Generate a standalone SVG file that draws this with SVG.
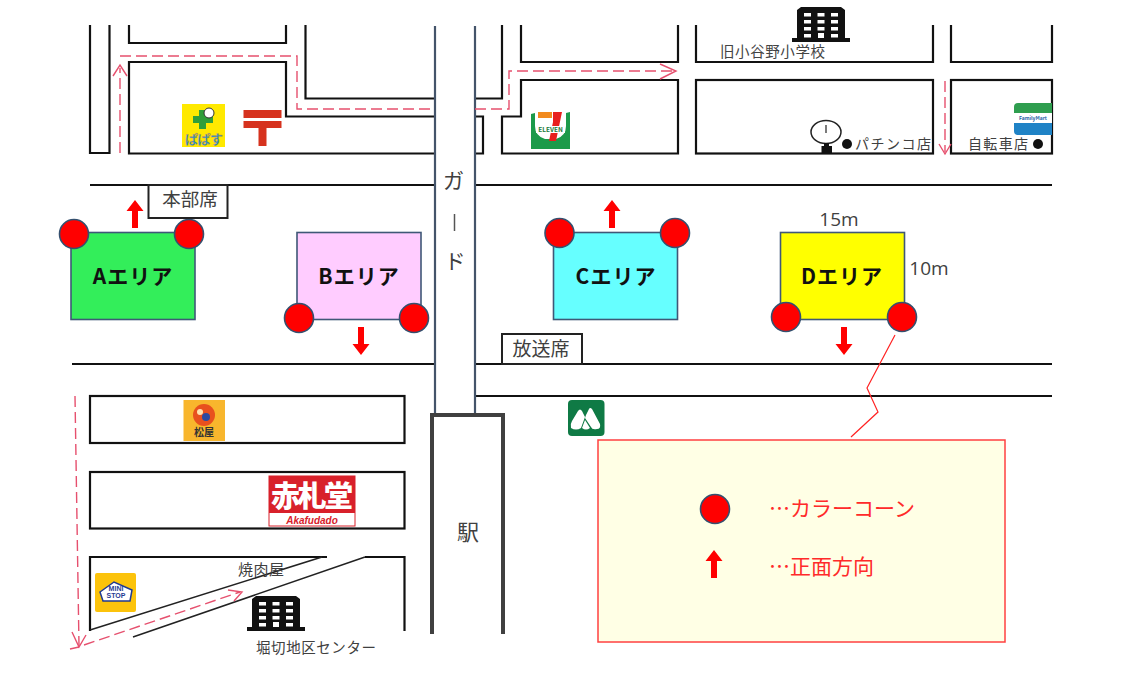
<svg xmlns="http://www.w3.org/2000/svg" width="1126" height="680" viewBox="0 0 1126 680">
<style>
text{font-family:"Noto Sans CJK JP","Noto Sans",sans-serif;fill:#404040}
.road{fill:none;stroke:#111;stroke-width:2.200}
.guard{fill:none;stroke:#44546a;stroke-width:2.200}
.dash{fill:none;stroke:#e6506e;stroke-width:1.400;stroke-dasharray:11 5}
.head{fill:none;stroke:#e6506e;stroke-width:1.400}
.area{stroke:#3f5877;stroke-width:1.600}
.cone{fill:#f00;stroke:#34506f;stroke-width:1.600}
.lab{font-size:21px;font-weight:700;fill:#111;text-anchor:middle;letter-spacing:1px}
.box{fill:#fff;stroke:#222;stroke-width:2}
.blk{fill:#111}
.win{fill:#fff}
</style>
<defs>
<path id="up" d="M0-14L8.500-3H3V14H-3V-3H-8.500Z" fill="#f00"/>
<g id="bld">
<path class="blk" d="M-24 -16L-20 -19H20L24 -16V12H29V16H-29V12H-24Z"/>
<g class="win">
<rect x="-17" y="-13" width="7" height="3.500"/><rect x="-3.500" y="-13" width="7" height="3.500"/><rect x="10" y="-13" width="7" height="3.500"/>
<rect x="-17" y="-6" width="7" height="3.500"/><rect x="-3.500" y="-6" width="7" height="3.500"/><rect x="10" y="-6" width="7" height="3.500"/>
<rect x="-17" y="1" width="7" height="3.500"/><rect x="-3.500" y="1" width="7" height="3.500"/><rect x="10" y="1" width="7" height="3.500"/>
<rect x="-17" y="8" width="7" height="3.500"/><rect x="-3" y="7" width="6" height="5"/><rect x="10" y="8" width="7" height="3.500"/>
</g>
</g>
</defs>
<rect width="1126" height="680" fill="#fff"/>

<g id="roads">
<path class="road" d="M90 25V153H109.500V25"/>
<path class="road" d="M129 25V43H286V25"/>
<path class="road" d="M435 116.500H286V62H129V153.500H435"/>
<path class="road" d="M305.500 25V98.500H435"/>
<path class="road" d="M475 98.500H502V25"/>
<path class="road" d="M475 116.500H483V153.500H475"/>
<path class="road" d="M521 25V62H678V25"/>
<path class="road" d="M521 80H678V153.500H502V116.500H521Z"/>
<path class="road" d="M696 25V62H933V25"/>
<rect class="road" x="696" y="80" width="237" height="73.500"/>
<path class="road" d="M951 25V62H1052V25"/>
<rect class="road" x="951" y="80" width="101" height="73.500"/>
<path class="road" d="M90 185H435M475 185H1052"/>
<path class="road" d="M72 364H435M475 364H1052M475 396H1052"/>
<rect class="road" x="90" y="396" width="314.500" height="47"/>
<rect class="road" x="90" y="472" width="314.500" height="56.500"/>
<path class="road" d="M90 631V557H327"/>
<path class="road" d="M365 557H404.500V631"/>
<path d="M322 557L90 630M365 557L133 637" fill="none" stroke="#222" stroke-width="1.500"/>
<path class="guard" d="M435 26V413M475 26V413"/>
</g>

<g id="route">
<path class="dash" d="M120 153V68"/>
<path class="head" d="M113 76L120 65L127 76"/>
<path class="dash" d="M120 56H297V109H435"/>
<path class="dash" d="M475 109H509V71H672"/>
<path class="head" d="M660 64L676 71L660 79"/>
<path class="dash" d="M945 81V152"/>
<path class="head" d="M939 144L945 154L951 144"/>
<path class="dash" d="M75 396L79 646"/>
<path class="head" d="M72 632L79 647L86 635M70 649L79 647"/>
<path class="dash" d="M84 645L240 592"/>
<path class="head" d="M228 590L242 592L234 601"/>
</g>

<g id="station">
<path d="M432 634V415H503V634" fill="#fff" stroke="#404040" stroke-width="4"/>
<text x="468" y="540" font-size="22" text-anchor="middle">駅</text>
</g>
<g id="guard-label">
<text x="453.500" y="188" font-size="21" text-anchor="middle">ガ</text>
<path d="M454.500 214V231" stroke="#555" stroke-width="1.500"/>
<text x="455" y="269" font-size="21" text-anchor="middle">ド</text>
</g>

<g id="area-a">
<rect class="area" x="71" y="232.500" width="124" height="87" fill="#33ee5a"/>
<text class="lab" x="133" y="284">Aエリア</text>
<circle class="cone" cx="74" cy="234" r="14.500"/><circle class="cone" cx="189" cy="234" r="14.500"/>
<use href="#up" transform="translate(135 214)"/>
</g>
<g id="area-b">
<rect class="area" x="297" y="232.500" width="124" height="87" fill="#ffccff"/>
<text class="lab" x="359" y="284">Bエリア</text>
<circle class="cone" cx="299" cy="318" r="14.500"/><circle class="cone" cx="414" cy="318" r="14.500"/>
<use href="#up" transform="translate(361 341) rotate(180)"/>
</g>
<g id="area-c">
<rect class="area" x="553.500" y="232.500" width="124" height="87" fill="#66ffff"/>
<text class="lab" x="616" y="284">Cエリア</text>
<circle class="cone" cx="559.500" cy="233" r="14.500"/><circle class="cone" cx="675" cy="233" r="14.500"/>
<use href="#up" transform="translate(612 214)"/>
</g>
<g id="area-d">
<rect class="area" x="780.500" y="232.500" width="124" height="87" fill="#ff0"/>
<text class="lab" x="842" y="284">Dエリア</text>
<circle class="cone" cx="786" cy="317" r="14.500"/><circle class="cone" cx="902" cy="317" r="14.500"/>
<use href="#up" transform="translate(844 341) rotate(180)"/>
<text x="839" y="226" font-size="19" text-anchor="middle" style="font-family:'Open Sans',sans-serif">15m</text>
<text x="929" y="275" font-size="19" text-anchor="middle" style="font-family:'Open Sans',sans-serif">10m</text>
</g>

<g id="honbu">
<rect class="box" x="148.500" y="185" width="79" height="33"/>
<text x="190" y="206" font-size="18.500" text-anchor="middle">本部席</text>
</g>
<g id="hoso">
<rect class="box" x="502" y="334" width="80" height="30"/>
<text x="541" y="355.500" font-size="19" text-anchor="middle">放送席</text>
</g>

<g id="legend">
<path d="M895 335L867 388L878 412L851 437" fill="none" stroke="#f22" stroke-width="1.200"/>
<rect x="598" y="440" width="407" height="202" fill="#ffffe5" stroke="#ff4040" stroke-width="1.500"/>
<circle class="cone" cx="715" cy="509" r="14.500"/>
<use href="#up" transform="translate(714 564)"/>
<text x="769" y="516" font-size="21" style="fill:#ff2a2a">…カラーコーン</text>
<text x="769" y="574" font-size="21" style="fill:#ff2a2a">…正面方向</text>
</g>

<g id="papasu">
<rect x="182" y="104" width="43" height="43" fill="#ffe900"/>
<path d="M193 116h6v-6h7v6h7v7h-7v6h-7v-6h-6Z" fill="#2f9e3a"/>
<circle cx="209" cy="113" r="5" fill="#fff" stroke="#333"/>
<text x="204" y="144" font-size="13" font-weight="700" text-anchor="middle" style="fill:#2a8fc0;stroke:#f0a020;stroke-width:.3" textLength="38">ぱぱす</text>
</g>
<g id="post">
<path d="M243.500 110H281.500V118H243.500ZM243.500 121H281.500V128H266.500V146H258.500V128H243.500Z" fill="#d6321e"/>
</g>
<g id="seven">
<path d="M531 114L535 113V126Q535 136 545 139H556Q566 136 566 126V113L570 112V149H531Z" fill="#1c9a4a"/>
<rect x="538" y="112" width="14" height="6" fill="#f28a1e"/>
<path d="M553 112H562L556 141H549L553 122Z" fill="#e8201e"/>
<rect x="536" y="126" width="29" height="7" fill="#fff"/>
<text x="550.500" y="132" font-size="6.500" font-weight="700" text-anchor="middle" style="fill:#1c7a3a">ELEVEN</text>
</g>
<g id="school">
<use href="#bld" transform="translate(821 26)"/>
<text x="720" y="57" font-size="14.500" style="fill:#444" textLength="105">旧小谷野小学校</text>
</g>
<g id="pachinko">
<ellipse cx="826" cy="132" rx="15" ry="11.500" fill="#fff" stroke="#222" stroke-width="1.500"/>
<path d="M826 125V133" stroke="#222" stroke-width="1.200"/>
<path d="M824 143H829V146H832V153H821.500V146H824Z" fill="#111"/>
<circle cx="847" cy="144" r="5" fill="#111"/>
<text x="855" y="149" font-size="14" textLength="76">パチンコ店</text>
</g>
<g id="bike">
<text x="968" y="149" font-size="14" textLength="60">自転車店</text>
<circle cx="1038" cy="144" r="5" fill="#111"/>
</g>
<g id="family">
<path d="M1014 113V107Q1014 103 1018 103H1052V113Z" fill="#2f9e4f"/>
<rect x="1014" y="113" width="38" height="10" fill="#fff"/>
<path d="M1014 123H1052V135H1018Q1014 135 1014 131Z" fill="#1f83c6"/>
<text x="1033" y="120" font-size="5" font-weight="700" text-anchor="middle" style="fill:#1f5fa6">FamilyMart</text>
</g>

<g id="matsuya">
<rect x="183.500" y="400" width="41.500" height="41" fill="#f8b62d"/>
<circle cx="204" cy="415" r="11" fill="#e8501e"/>
<circle cx="206" cy="417" r="4" fill="#2a4aa0"/><circle cx="200" cy="412" r="3" fill="#fde2b0"/>
<text x="204" y="436" font-size="10" font-weight="700" text-anchor="middle" style="fill:#333">松屋</text>
</g>
<g id="akafudado">
<rect x="269" y="476" width="86" height="50" fill="#fff" stroke="#d8202a"/>
<rect x="269" y="476" width="86" height="37" fill="#d8202a"/>
<text x="312" y="507" font-size="29" font-weight="900" text-anchor="middle" style="fill:#fff" textLength="82">赤札堂</text>
<text x="312" y="524" font-size="10" font-style="italic" font-weight="700" text-anchor="middle" style="fill:#d8202a;font-family:'Liberation Sans',sans-serif">Akafudado</text>
</g>
<g id="ministop">
<rect x="95" y="573" width="41" height="39" rx="2" fill="#fcc30b"/>
<path d="M100 592L114 582L132 590L130 601H103Z" fill="#fff" stroke="#1f3a93" stroke-width="1.500"/>
<text x="116" y="591" font-size="7" font-weight="900" text-anchor="middle" style="fill:#1f3a93;font-family:'Liberation Sans',sans-serif">MINI</text>
<text x="116" y="598" font-size="7" font-weight="900" text-anchor="middle" style="fill:#1f3a93;font-family:'Liberation Sans',sans-serif">STOP</text>
</g>
<g id="yakiniku">
<text x="238" y="575" font-size="15" textLength="46">焼肉屋</text>
</g>
<g id="center">
<use href="#bld" transform="translate(276 615)"/>
<text x="256" y="653" font-size="14.500" textLength="120">堀切地区センター</text>
</g>
<g id="mos">
<rect x="568" y="400" width="36.500" height="36" rx="4" fill="#0f7a45"/>
<path d="M571 428Q570 424 572 421L578 411Q580 408 582 411L585 417L581 428Q576 431 571 428ZM586 415L589 409Q590 407 592 409L600 424Q601 429 597 429Q592 430 591 427L585 418ZM582 428L585 420L590 428Q586 431 582 428Z" fill="#fff"/>
</g>
</svg>
